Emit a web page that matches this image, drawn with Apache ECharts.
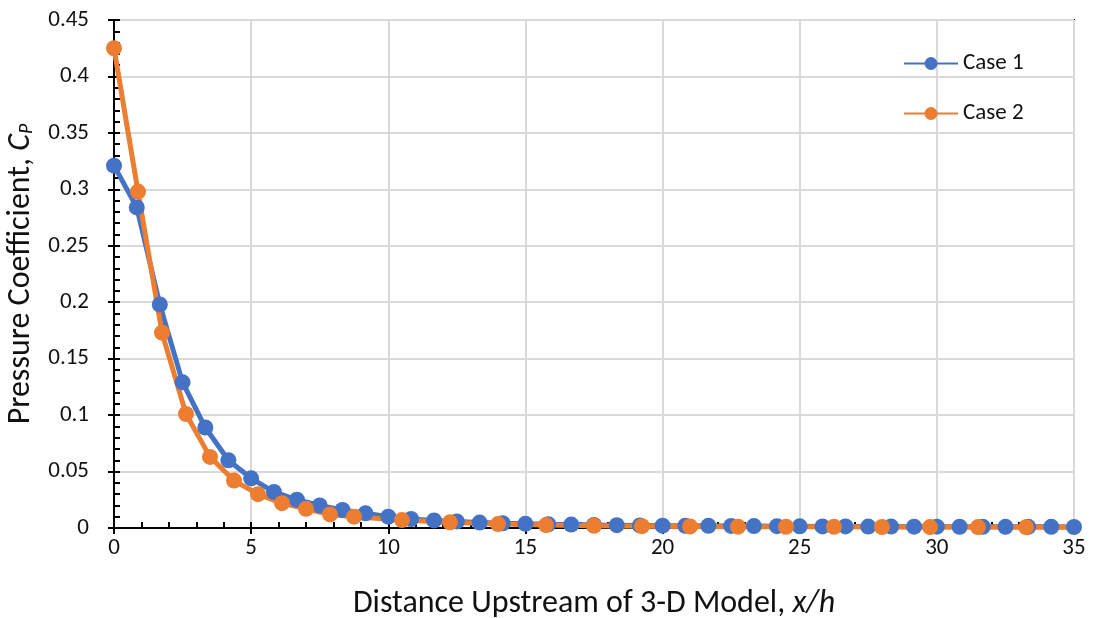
<!DOCTYPE html>
<html>
<head>
<meta charset="utf-8">
<script src="https://cdn.jsdelivr.net/npm/echarts@6/dist/echarts.min.js"></script>
<style>
  html, body { margin: 0; padding: 0; background: #ffffff; }
  #chart { width: 1099px; height: 618px; }
</style>
</head>
<body>
<div id="chart"></div>
<script>
// Distance upstream of the model (x/h) and pressure coefficient for each case
const case1X = [0, 0.83, 1.67, 2.5, 3.33, 4.17, 5, 5.83, 6.67, 7.5, 8.33, 9.17, 10, 10.83,
  11.67, 12.5, 13.33, 14.17, 15, 15.83, 16.67, 17.5, 18.33, 19.17, 20, 20.83, 21.67, 22.5,
  23.33, 24.17, 25, 25.83, 26.67, 27.5, 28.33, 29.17, 30, 30.83, 31.67, 32.5, 33.33, 34.17, 35];
const case1Cp = [0.321, 0.284, 0.198, 0.129, 0.089, 0.060, 0.044, 0.032, 0.025, 0.020, 0.016,
  0.013, 0.010, 0.008, 0.0067, 0.0058, 0.0048, 0.0042, 0.0037, 0.0033, 0.0030, 0.0027, 0.0025,
  0.0023, 0.0021, 0.0020, 0.0019, 0.0018, 0.0017, 0.0016, 0.0015, 0.0014, 0.0014, 0.0013,
  0.0013, 0.0012, 0.0012, 0.0011, 0.0011, 0.0010, 0.0010, 0.0010, 0.0009];

const case2X = [0, 0.875, 1.75, 2.625, 3.5, 4.375, 5.25, 6.125, 7, 7.875, 8.75, 10.5, 12.25,
  14, 15.75, 17.5, 19.25, 21, 22.75, 24.5, 26.25, 28, 29.75, 31.5, 33.25, 35];
const case2Cp = [0.425, 0.298, 0.173, 0.101, 0.063, 0.042, 0.030, 0.022, 0.017, 0.012, 0.010,
  0.007, 0.005, 0.0035, 0.0026, 0.0020, 0.0016, 0.0014, 0.0012, 0.0011, 0.0010, 0.0009,
  0.0008, 0.0008, 0.0007, 0.0007];

const seriesNames = ['Case 1', 'Case 2'];
const xTicks = { min: 0, max: 35, interval: 5 };
const yTicks = { min: 0, max: 0.45, interval: 0.05 };

const FONT = 'Carlito, Lato, "Noto Sans", sans-serif';
const TEXT = '#111111';
const GRIDLINE = '#d9d9d9';
const TICK_FONT = 23;
const TITLE_FONT = 32;

function pairs(xs, ys) {
  return xs.map((x, i) => [x, ys[i]]);
}
// the last Case 2 sample sits on the right edge without a marker
const case2Data = pairs(case2X, case2Cp).map((p, i, a) =>
  i === a.length - 1 ? { value: p, symbolSize: 0 } : p);

const chart = echarts.init(document.getElementById('chart'), null, { renderer: 'canvas' });

const axisLine = { show: true, lineStyle: { color: '#000', width: 2 } };
const tickStyle = { color: '#000', width: 2 };

chart.setOption({
  animation: false,
  backgroundColor: '#ffffff',
  textStyle: { fontFamily: FONT },
  grid: {
    left: 114, right: 25, top: 20, bottom: 90,
    containLabel: false,
    outerBoundsMode: 'none',
    show: true, borderColor: '#000', borderWidth: 2, backgroundColor: 'transparent'
  },
  legend: {
    data: seriesNames,
    orient: 'vertical',
    left: 903, top: 52,
    padding: 0,
    itemWidth: 54, itemHeight: 16, itemGap: 27,
    textStyle: { fontFamily: FONT, fontSize: TICK_FONT, lineHeight: 20, color: TEXT }
  },
  xAxis: [{
    type: 'value',
    min: xTicks.min, max: xTicks.max, interval: xTicks.interval,
    axisLine: axisLine,
    axisTick: { show: true, inside: false, length: 6, lineStyle: tickStyle },
    axisLabel: { fontFamily: FONT, fontSize: TICK_FONT, color: TEXT, margin: 9 },
    splitLine: { show: true, lineStyle: { color: GRIDLINE, width: 2 } },
    name: '{n|Distance Upstream of 3-D Model, }{i|x/h}',
    nameLocation: 'middle', nameGap: 60,
    nameTextStyle: {
      rich: {
        n: { fontFamily: FONT, fontSize: TITLE_FONT, color: TEXT },
        i: { fontFamily: FONT, fontSize: TITLE_FONT, color: TEXT, fontStyle: 'italic' }
      }
    }
  }, {
    type: 'value', position: 'bottom',
    min: xTicks.min, max: xTicks.max, interval: xTicks.interval,
    axisLine: { show: false },
    axisTick: { show: true, inside: true, length: 6, lineStyle: tickStyle },
    minorTick: { show: true, splitNumber: 5, length: 6, lineStyle: tickStyle },
    axisLabel: { show: false },
    splitLine: { show: false }
  }],
  yAxis: [{
    type: 'value',
    min: yTicks.min, max: yTicks.max, interval: yTicks.interval,
    axisLine: axisLine,
    axisTick: { show: true, inside: false, length: 6, lineStyle: tickStyle },
    axisLabel: {
      fontFamily: FONT, fontSize: TICK_FONT, color: TEXT, margin: 25,
      formatter: v => String(+v.toFixed(2))
    },
    splitLine: { show: true, lineStyle: { color: GRIDLINE, width: 2 } },
    name: '{n|Pressure Coefficient, }{i|C}{s|P}',
    nameLocation: 'middle', nameGap: 68, nameRotate: 90,
    nameTextStyle: {
      rich: {
        n: { fontFamily: FONT, fontSize: TITLE_FONT, color: TEXT },
        i: { fontFamily: FONT, fontSize: TITLE_FONT, color: TEXT, fontStyle: 'italic' },
        s: { fontFamily: FONT, fontSize: 20, color: TEXT, fontStyle: 'italic', verticalAlign: 'bottom', padding: [10, 0, 0, 0] }
      }
    }
  }, {
    type: 'value', position: 'left',
    min: yTicks.min, max: yTicks.max, interval: yTicks.interval,
    axisLine: { show: false },
    axisTick: { show: true, inside: true, length: 6, lineStyle: tickStyle },
    minorTick: { show: true, splitNumber: 5, length: 6, lineStyle: tickStyle },
    axisLabel: { show: false },
    splitLine: { show: false }
  }],
  series: [{
    name: seriesNames[0],
    type: 'line',
    xAxisIndex: 0, yAxisIndex: 0,
    data: pairs(case1X, case1Cp),
    symbol: 'circle', symbolSize: 16,
    color: '#4472C4',
    lineStyle: { width: 5, color: '#4472C4' },
    itemStyle: { color: '#4472C4' },
    clip: false
  }, {
    name: seriesNames[1],
    type: 'line',
    xAxisIndex: 0, yAxisIndex: 0,
    data: case2Data,
    symbol: 'circle', symbolSize: 16,
    color: '#ED7D31',
    lineStyle: { width: 5, color: '#ED7D31' },
    itemStyle: { color: '#ED7D31' },
    clip: false
  }]
});
</script>
</body>
</html>
